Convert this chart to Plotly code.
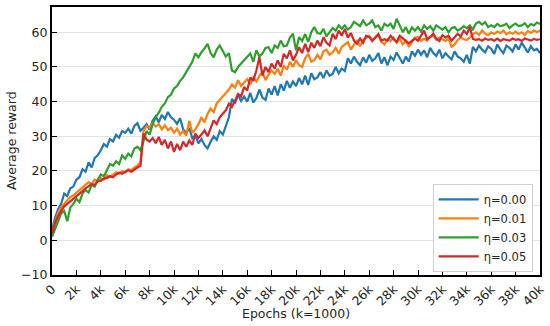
import plotly.graph_objects as go

# x positions in epochs (step of 250 epochs)
epochs = [i * 250 for i in range(161)]

eta_000 = [
    3.0, 6.5, 9.0, 10.5, 13.5, 12.8, 15.0, 15.5,
    17.5, 18.2, 20.5, 19.8, 22.5, 21.0, 23.8, 24.5,
    26.0, 27.8, 27.0, 29.2, 28.5, 30.4, 29.6, 31.5,
    31.0, 32.2, 30.8, 33.0, 33.8, 31.6, 32.5, 33.5,
    32.0, 34.5, 35.8, 34.0, 36.2, 35.0, 37.0, 35.5,
    34.8, 33.6, 35.2, 32.0, 31.0, 32.4, 29.5, 30.2,
    28.0, 29.2, 27.5, 26.5, 28.4, 30.0, 29.0, 31.5,
    30.5, 33.0, 35.5, 40.8, 39.5, 42.0, 40.2, 41.5,
    40.0, 42.5, 39.8, 41.0, 43.5, 41.2, 40.5, 43.8,
    42.0, 44.5, 41.8, 45.0, 43.2, 46.0, 44.0, 45.8,
    44.5, 46.8, 45.0, 47.5, 44.8, 48.2, 46.5, 47.0,
    48.5, 46.8, 49.0, 47.5, 48.0, 50.0, 48.2, 49.5,
    48.8, 52.5, 51.0, 53.0, 51.5, 50.5, 52.8, 51.2,
    53.5, 51.8, 52.5, 54.0, 51.0, 52.8, 50.5, 53.0,
    52.0, 54.2, 52.5, 51.0, 53.0, 51.5, 54.5, 53.2,
    55.0, 53.5, 54.8, 52.8, 55.5, 54.0, 53.2, 55.0,
    52.5, 54.0, 53.0, 52.2, 54.5, 53.0, 52.5, 51.5,
    53.5, 51.0, 55.8, 54.5, 56.2, 55.0, 54.2, 56.0,
    55.2, 53.8, 56.5, 55.0, 54.0, 56.2, 55.5, 54.5,
    56.5, 55.0, 57.0, 55.5, 54.2, 56.0, 54.8, 55.2,
    54.0,
]

eta_001 = [
    2.5, 5.5, 8.0, 9.5, 10.5, 11.8, 12.5, 13.0,
    13.8, 14.5, 15.2, 16.0, 16.8, 16.2, 17.5, 17.0,
    18.0, 17.5, 18.8, 18.2, 19.0, 19.6, 19.2, 20.0,
    19.5, 20.5, 20.2, 21.0, 21.5, 22.5, 31.5, 33.0,
    32.5, 33.8, 32.8, 33.5, 32.0, 33.2, 31.8, 32.5,
    31.0, 32.2, 30.5, 31.5, 30.2, 34.5, 31.0, 32.0,
    33.5, 35.5, 34.0, 36.5, 38.0, 37.0, 39.5, 40.5,
    41.5, 42.8, 43.5, 45.0, 44.0, 46.2, 44.5, 45.5,
    46.5, 45.0, 47.0, 45.8, 47.5, 48.5, 46.2, 47.8,
    49.0, 48.0, 49.5, 47.5, 50.5, 49.2, 51.5, 50.0,
    52.0, 50.5, 50.0, 52.5, 53.8, 51.5, 52.0, 53.5,
    52.2, 54.5, 55.0, 53.5, 54.2, 55.5, 53.8, 55.8,
    56.5, 57.2, 55.0, 56.5, 57.5, 56.0, 57.8, 58.5,
    59.0, 57.8, 58.5, 59.2, 57.2, 56.5, 58.0, 57.5,
    58.5, 57.0, 58.2, 56.5, 57.5, 55.8, 57.2, 58.5,
    58.6, 57.5, 58.2, 57.6, 58.8, 59.0, 57.8, 58.5,
    58.0, 57.5, 58.2, 55.8, 56.5, 57.8, 58.5, 58.0,
    57.8, 58.5, 59.5, 60.0, 59.2, 60.5, 59.6, 59.2,
    60.0, 59.5, 60.2, 59.8, 60.5, 59.4, 60.0, 59.6,
    60.2, 59.5, 60.0, 59.2, 60.4, 59.8, 60.5, 60.0,
    60.5,
]

eta_003 = [
    1.0, 3.5, 5.5, 7.8, 8.5, 5.5, 9.5, 10.5,
    12.0, 11.0, 13.5, 14.5, 13.8, 16.0, 15.5, 17.5,
    19.0, 18.5, 20.5, 22.0, 21.5, 22.8, 22.0, 24.5,
    23.5, 25.0, 24.2, 26.5, 27.0, 26.0, 28.5, 31.5,
    30.5, 33.5, 35.5, 36.8, 38.5, 39.5, 41.3, 42.0,
    43.8, 44.5, 46.0, 47.0, 48.5, 50.0, 51.5, 53.9,
    52.8, 54.3, 55.3, 56.7, 54.0, 52.8, 55.0, 56.2,
    54.5, 53.0, 54.0, 49.0, 48.5, 50.0, 51.0, 51.9,
    52.8, 53.9, 51.5, 54.8, 53.0, 53.9, 55.5, 55.7,
    54.0, 56.2, 55.5, 57.6, 56.0, 56.2, 58.5, 59.6,
    54.8, 58.6, 57.5, 59.5, 57.2, 60.0, 61.5, 59.8,
    59.6, 61.0, 58.8, 60.0, 61.2, 60.5, 62.0, 61.0,
    62.0, 60.8, 61.5, 63.0, 62.5, 61.8, 63.4, 62.0,
    62.5, 63.4, 61.5, 62.0, 60.5, 62.5, 61.8, 62.5,
    61.0, 63.9, 62.0, 60.0, 61.5, 59.6, 61.4, 60.5,
    61.5, 60.2, 62.0, 61.0, 61.8, 60.5, 62.0, 61.5,
    60.8, 61.5, 60.0, 61.2, 61.5, 60.5, 61.0, 61.8,
    61.2, 62.0, 60.8, 62.5, 63.0, 62.2, 62.9, 61.5,
    62.0, 61.5, 62.4, 61.8, 62.0, 62.5, 61.2, 62.0,
    62.5, 61.8, 62.0, 62.6, 61.5, 62.4, 62.0, 62.8,
    62.4,
]

eta_005 = [
    2.0, 5.0, 7.0, 8.5, 9.8, 10.5, 11.2, 12.0,
    12.8, 13.5, 14.2, 15.0, 15.5, 16.2, 16.0, 17.0,
    17.2, 17.8, 18.0, 18.5, 18.2, 19.0, 19.5, 19.2,
    19.8, 20.2, 19.8, 20.5, 21.0, 21.5, 30.8, 29.0,
    28.5, 29.5, 28.0, 29.8, 27.5, 29.0, 26.5, 28.5,
    25.5, 27.8, 26.0, 28.5, 27.0, 28.8, 27.5, 30.8,
    29.5, 30.5, 31.7, 30.0, 32.6, 34.6, 33.5, 35.5,
    36.5, 37.5, 39.4, 38.5, 40.3, 42.2, 41.5, 44.2,
    43.2, 47.0, 46.0, 49.0, 52.8, 47.5, 50.0, 48.5,
    51.0, 49.5, 51.9, 50.0, 53.8, 52.5, 54.8, 51.9,
    53.5, 55.7, 54.0, 56.7, 54.3, 57.0, 55.5, 57.6,
    56.0, 58.6, 57.0, 56.2, 59.6, 58.0, 60.5, 59.0,
    61.0, 58.5, 59.8, 57.6, 56.7, 58.2, 57.0, 59.0,
    58.6, 57.5, 58.5, 59.5, 57.6, 58.0, 57.6, 59.0,
    58.0, 57.2, 59.0, 58.2, 57.6, 56.8, 57.5, 58.2,
    57.6, 59.0, 60.5, 58.0, 58.6, 59.6, 58.2, 57.5,
    59.2, 58.5, 59.0, 57.6, 58.5, 59.6, 58.8, 60.5,
    59.5, 61.5, 58.1, 57.8, 58.0, 57.6, 58.2, 57.8,
    58.0, 57.6, 58.2, 57.5, 58.0, 57.8, 57.6, 58.2,
    57.8, 58.0, 57.5, 58.2, 57.8, 57.6, 58.1, 57.8,
    58.0,
]

series_names = ["η=0.00", "η=0.01", "η=0.03", "η=0.05"]
series_values = [eta_000, eta_001, eta_003, eta_005]
series_colors = ["#1f77b4", "#ff7f0e", "#2ca02c", "#d62728"]

x_tick_vals = [i * 2000 for i in range(21)]
x_tick_text = ["0"] + [f"{i * 2}k" for i in range(1, 21)]
y_tick_vals = [-10, 0, 10, 20, 30, 40, 50, 60]

x_title = "Epochs (k=1000)"
y_title = "Average reward"

FONT = "DejaVu Sans"
TXT = "#262626"

fig = go.Figure()
for name, vals, col in zip(series_names, series_values, series_colors):
    fig.add_trace(go.Scatter(
        x=epochs, y=vals, mode="lines", name=name,
        line=dict(color=col, width=2.2),
    ))

fig.update_layout(
    width=550, height=326,
    margin=dict(l=52, r=10, t=7, b=51, autoexpand=False),
    paper_bgcolor="white", plot_bgcolor="white",
    font=dict(family=FONT, size=12.5, color=TXT),
    showlegend=True,
    legend=dict(
        x=0.985, y=0.012, xanchor="right", yanchor="bottom",
        bgcolor="rgba(255,255,255,0.9)", bordercolor="#d0d0d0", borderwidth=1,
        font=dict(family=FONT, size=11.5, color=TXT),
        itemwidth=40,
    ),
    annotations=[
        dict(text=x_title, xref="paper", yref="paper", x=0.5, y=-0.142,
             xanchor="center", yanchor="middle", showarrow=False,
             font=dict(family=FONT, size=12.5, color=TXT)),
        dict(text=y_title, xref="paper", yref="paper", x=-0.084, y=0.5,
             xanchor="center", yanchor="middle", showarrow=False, textangle=-90,
             font=dict(family=FONT, size=12.5, color=TXT)),
    ],
)
fig.update_xaxes(
    range=[0, 40000], tickvals=x_tick_vals, ticktext=x_tick_text,
    tickangle=-45, ticks="inside", ticklen=5, tickwidth=1.2, tickcolor="black",
    showline=True, linecolor="black", linewidth=2, mirror=True,
    showgrid=False, zeroline=False, automargin=False,
    tickfont=dict(family=FONT, size=12.5, color=TXT),
)
fig.update_yaxes(
    range=[-10, 67.3], tickvals=y_tick_vals,
    ticks="inside", ticklen=5, tickwidth=1.2, tickcolor="black",
    showline=True, linecolor="black", linewidth=2, mirror=True,
    showgrid=True, gridcolor="#e3e3e3", gridwidth=1, zeroline=False, automargin=False,
    tickfont=dict(family=FONT, size=12.5, color=TXT),
)

fig.write_html(
    "out.html",
    config={"displayModeBar": False},
    post_script="document.body.style.margin='0px';document.body.style.padding='0px';",
)
